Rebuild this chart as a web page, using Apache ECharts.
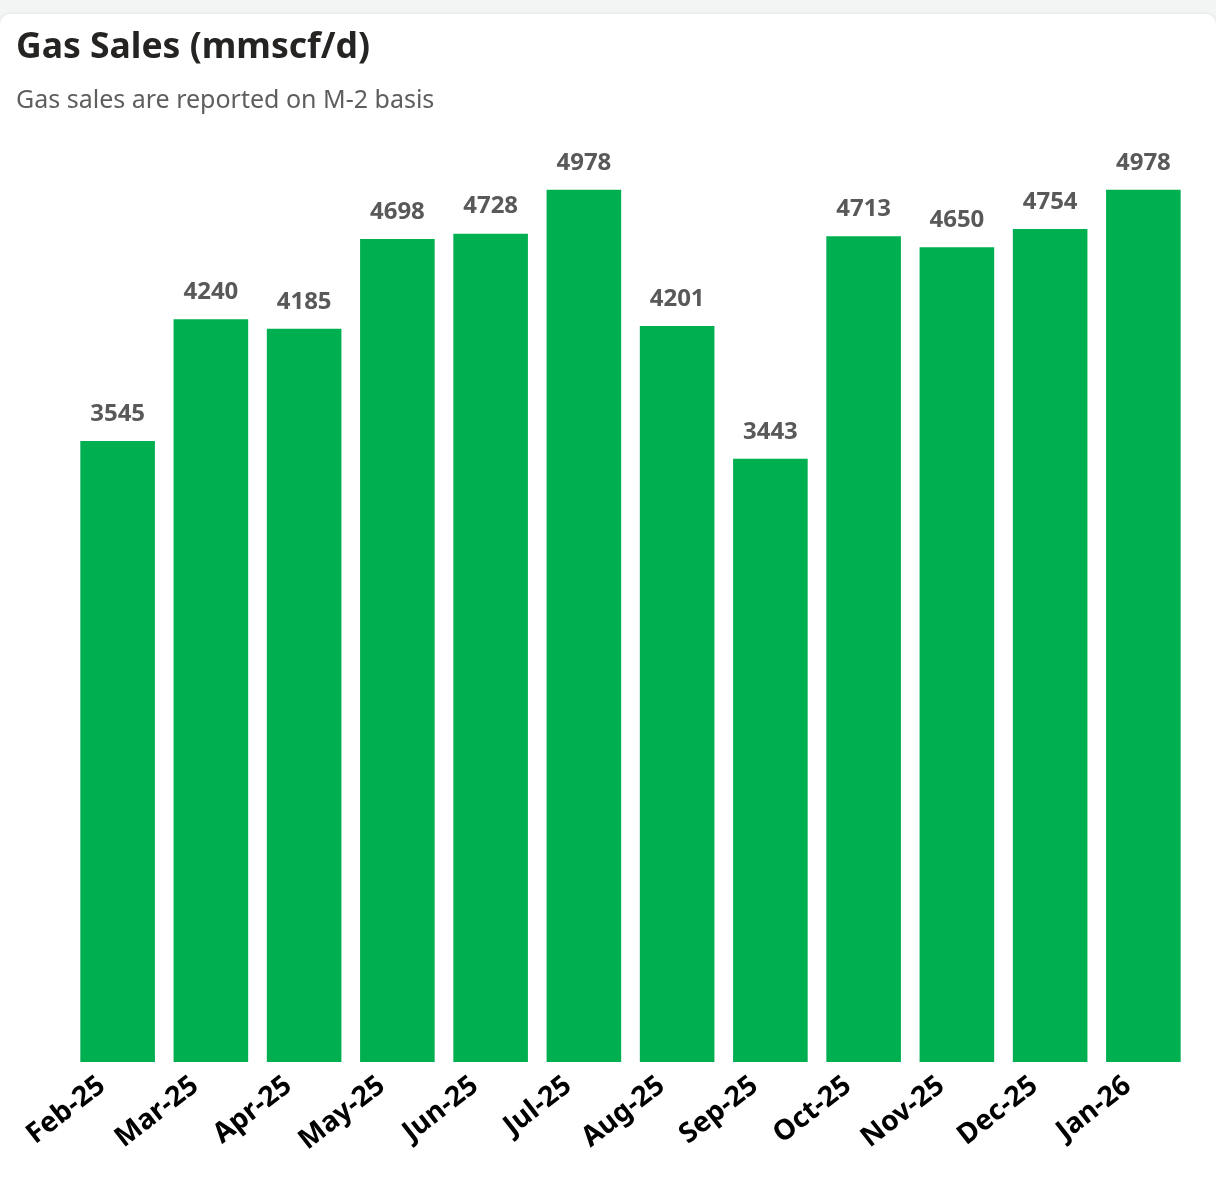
<!DOCTYPE html>
<html>
<head>
<meta charset="utf-8">
<script src="https://cdn.jsdelivr.net/npm/echarts@6/dist/echarts.min.js"></script>
<style>
  html, body { margin: 0; padding: 0; background: #f3f4f4; }
  #card {
    position: absolute; left: 0; top: 14px; width: 1216px; height: 1165px;
    background: #fff; border-radius: 10px 10px 0 0;
    box-shadow: 0 0 4px rgba(0,0,0,0.08);
  }
  #chart { width: 1216px; height: 1165px; }
</style>
</head>
<body>
<div id="card"><div id="chart"></div></div>
<script>
const months = ['Feb-25', 'Mar-25', 'Apr-25', 'May-25', 'Jun-25', 'Jul-25',
  'Aug-25', 'Sep-25', 'Oct-25', 'Nov-25', 'Dec-25', 'Jan-26']
const gasSales = [3545, 4240, 4185, 4698, 4728, 4978, 4201, 3443, 4713, 4650, 4754, 4978]

const chart = echarts.init(document.getElementById('chart'))

const option = {
  animation: false,
  title: {
    text: 'Gas Sales (mmscf/d)',
    subtext: 'Gas sales are reported on M-2 basis',
    left: 11,
    top: 11,
    itemGap: 22,
    textStyle: {
      fontFamily: 'Noto Sans',
      fontSize: 35.5,
      fontWeight: 'bold',
      color: '#252423'
    },
    subtextStyle: {
      fontFamily: 'Noto Sans',
      fontSize: 25,
      color: '#605e5c'
    }
  },
  grid: {
    left: 71,
    right: 26,
    top: 172,
    bottom: 117
  },
  xAxis: {
    type: 'category',
    data: months,
    axisLine: { show: false },
    axisTick: { show: false },
    axisLabel: {
      rotate: 38,
      interval: 0,
      margin: 8,
      padding: [0, 20, 0, 0],
      fontFamily: 'Noto Sans',
      fontSize: 28,
      fontWeight: 'bold',
      color: '#000'
    }
  },
  yAxis: {
    type: 'value',
    min: 0,
    max: 5000,
    show: false,
    splitLine: { show: false }
  },
  series: [
    {
      name: 'Gas Sales',
      type: 'bar',
      data: gasSales,
      barCategoryGap: '20%',
      itemStyle: { color: '#00b050' },
      label: {
        show: true,
        position: 'top',
        distance: 15,
        fontFamily: 'Noto Sans',
        fontSize: 24,
        fontWeight: 'bold',
        color: '#595959'
      }
    }
  ]
}

chart.setOption(option)
</script>
</body>
</html>
